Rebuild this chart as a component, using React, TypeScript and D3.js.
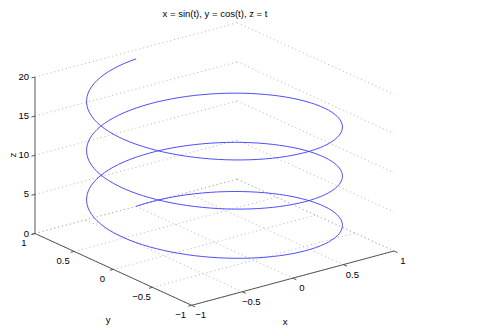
import React from "react";
import * as d3 from "d3";

// Parametric helix as stated in the title: x = sin(t), y = cos(t), z = t, t in [0, 6π]
const tValues: number[] = d3.range(0, 6 * Math.PI + 1e-9, Math.PI / 50);
const xValues: number[] = tValues.map((t) => Math.sin(t));
const yValues: number[] = tValues.map((t) => Math.cos(t));
const zValues: number[] = tValues.map((t) => t);

const xTicks = [-1, -0.5, 0, 0.5, 1];
const yTicks = [-1, -0.5, 0, 0.5, 1];
const zTicks = [0, 5, 10, 15, 20];
const titleText = "x = sin(t), y = cos(t), z = t";

const W = 480;
const H = 332;

// Projection anchor: corner (x=-1, y=1, z=0)
const AX = 35;
const AY = 233.5;
const xsx = d3.scaleLinear().domain([-1, 1]).range([0, 202.3]);
const xsy = d3.scaleLinear().domain([-1, 1]).range([0, -54.3]);
const ysx = d3.scaleLinear().domain([1, -1]).range([0, 156.7]);
const ysy = d3.scaleLinear().domain([1, -1]).range([0, 71.8]);
const zsy = d3.scaleLinear().domain([0, 20]).range([0, -156.5]);

const proj = (x: number, y: number, z: number): [number, number] => [
  AX + xsx(x) + ysx(y),
  AY + xsy(x) + ysy(y) + zsy(z),
];

const fmt = (v: number) => (v < 0 ? "\u2212" + String(-v) : String(v));

export default function App() {
  const line = d3
    .line<number>()
    .x((i) => proj(xValues[i], yValues[i], zValues[i])[0])
    .y((i) => proj(xValues[i], yValues[i], zValues[i])[1]);
  const helixPath = line(d3.range(tValues.length)) || "";

  const seg = (a: [number, number], b: [number, number]) =>
    `M${a[0]},${a[1]}L${b[0]},${b[1]}`;

  const grid: string[] = [];
  zTicks.forEach((z) => {
    grid.push(seg(proj(-1, 1, z), proj(1, 1, z)));
    grid.push(seg(proj(1, 1, z), proj(1, -1, z)));
  });
  xTicks.forEach((x) => grid.push(seg(proj(x, 1, 0), proj(x, -1, 0))));
  yTicks.forEach((y) => grid.push(seg(proj(-1, y, 0), proj(1, y, 0))));

  const font = "'Liberation Sans', Arial, Helvetica, sans-serif";
  const axisColor = "#555";

  return (
    <svg
      width={W}
      height={H}
      style={{ position: "absolute", left: 0, top: 0, background: "#fff" }}
      fontFamily={font}
      fontSize={9.5}
    >
      <rect width={W} height={H} fill="#fff" />
      {/* grid */}
      {grid.map((d, i) => (
        <path
          key={"g" + i}
          d={d}
          stroke="#b4b4b4"
          strokeWidth={1}
          strokeDasharray="1,3"
          fill="none"
        />
      ))}
      {/* axes */}
      <path d={seg(proj(-1, 1, 0), proj(-1, 1, 20))} stroke={axisColor} strokeWidth={1} fill="none" />
      <path d={seg(proj(-1, 1, 0), proj(-1, -1, 0))} stroke={axisColor} strokeWidth={1} fill="none" />
      <path d={seg(proj(-1, -1, 0), proj(1, -1, 0))} stroke={axisColor} strokeWidth={1} fill="none" />
      {/* x ticks */}
      {xTicks.map((x) => {
        const p = proj(x, -1, 0);
        return (
          <g key={"xt" + x}>
            <path d={`M${p[0]},${p[1]}l3.5,1.6`} stroke={axisColor} fill="none" />
            <text x={p[0] + 9} y={p[1] + 9.5} textAnchor="middle" dominantBaseline="central" fill="#000">
              {fmt(x)}
            </text>
          </g>
        );
      })}
      {/* y ticks */}
      {yTicks.map((y) => {
        const p = proj(-1, y, 0);
        return (
          <g key={"yt" + y}>
            <path d={`M${p[0]},${p[1]}l-3.5,0.9`} stroke={axisColor} fill="none" />
            <text x={p[0] - 11} y={p[1] + 9} textAnchor="middle" dominantBaseline="central" fill="#000">
              {fmt(y)}
            </text>
          </g>
        );
      })}
      {/* z ticks */}
      {zTicks.map((z) => {
        const p = proj(-1, 1, z);
        return (
          <g key={"zt" + z}>
            <path d={`M${p[0]},${p[1]}l-3.5,0.9`} stroke={axisColor} fill="none" />
            <text x={p[0] - 6} y={p[1] - 0.5} textAnchor="end" dominantBaseline="central" fill="#000">
              {fmt(z)}
            </text>
          </g>
        );
      })}
      {/* helix */}
      <path d={helixPath} stroke="#3a3aff" strokeWidth={0.9} fill="none" />
      {/* labels */}
      <text x={285} y={321} textAnchor="middle" dominantBaseline="central" fill="#000">x</text>
      <text x={108} y={319} textAnchor="middle" dominantBaseline="central" fill="#000">y</text>
      <text
        x={12}
        y={155}
        textAnchor="middle"
        dominantBaseline="central"
        fill="#000"
        transform="rotate(-90,12,155)"
      >
        z
      </text>
      <text x={215} y={13} textAnchor="middle" dominantBaseline="central" fill="#000">
        {titleText}
      </text>
    </svg>
  );
}
